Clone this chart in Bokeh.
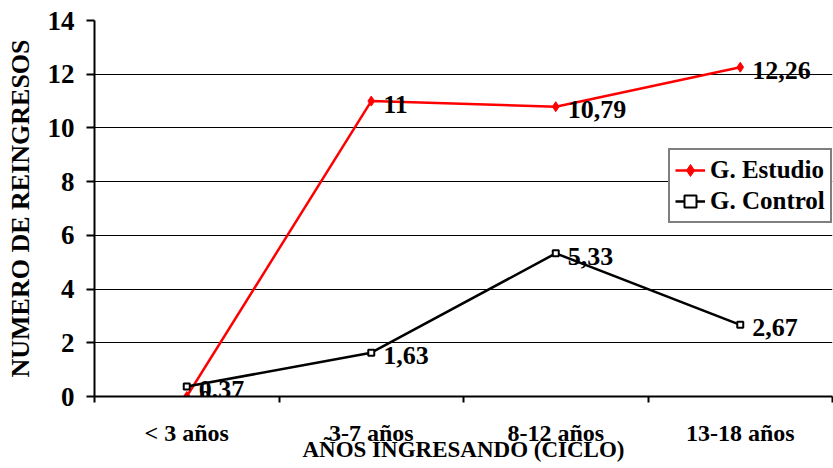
import numpy as np
from bokeh.plotting import figure
from bokeh.models import (Range1d, FixedTicker, Legend, LegendItem,
                          ColumnDataSource)
from bokeh.core.properties import value
from bokeh.embed import file_html
from bokeh.resources import INLINE

categories = ["< 3 años", "3-7 años", "8-12 años", "13-18 años"]
estudio = [0, 11, 10.79, 12.26]
control = [0.37, 1.63, 5.33, 2.67]
y_ticks = [0, 2, 4, 6, 8, 10, 12, 14]

FONT = "Liberation Serif"

def fmt(v):
    return f"{v:g}".replace(".", ",")

x = np.arange(len(categories)) + 0.5

p = figure(width=833, height=468, output_backend="svg", toolbar_location=None,
           x_range=Range1d(0, len(categories)), y_range=Range1d(0, 14),
           min_border_left=94, min_border_right=1, min_border_top=20,
           min_border_bottom=72)
p.outline_line_color = None
p.background_fill_color = "white"
p.border_fill_color = "white"

# horizontal grid only
p.xgrid.grid_line_color = None
p.ygrid.grid_line_color = "black"
p.ygrid.grid_line_width = 1

# y axis
p.yaxis.ticker = FixedTicker(ticks=y_ticks)
p.yaxis.axis_line_width = 2
p.yaxis.axis_line_color = "black"
p.yaxis.major_tick_line_width = 2
p.yaxis.major_tick_in = 0
p.yaxis.major_tick_out = 8
p.yaxis.minor_tick_line_color = None
p.yaxis.major_label_text_font = FONT
p.yaxis.major_label_text_font_style = "bold"
p.yaxis.major_label_text_font_size = "27px"
p.yaxis.major_label_text_color = "black"
p.yaxis.major_label_standoff = 12
p.yaxis.axis_label = "NUMERO DE REINGRESOS"
p.yaxis.axis_label_text_font = FONT
p.yaxis.axis_label_text_font_style = "bold"
p.yaxis.axis_label_text_font_size = "26px"
p.yaxis.axis_label_text_color = "black"
p.yaxis.axis_label_standoff = 10

# x axis: labels at category centers, ticks at category boundaries
p.xaxis.ticker = FixedTicker(ticks=list(x),
                             minor_ticks=list(range(len(categories) + 1)))
p.xaxis.major_label_overrides = {float(xi): c for xi, c in zip(x, categories)}
p.xaxis.axis_line_width = 2
p.xaxis.axis_line_color = "black"
p.xaxis.major_tick_line_color = None
p.xaxis.major_tick_in = 0
p.xaxis.major_tick_out = 0
p.xaxis.minor_tick_line_color = "black"
p.xaxis.minor_tick_line_width = 2
p.xaxis.minor_tick_in = 0
p.xaxis.minor_tick_out = 6
p.xaxis.major_label_text_font = FONT
p.xaxis.major_label_text_font_style = "bold"
p.xaxis.major_label_text_font_size = "24px"
p.xaxis.major_label_text_color = "black"
p.xaxis.major_label_standoff = 17
p.xaxis.axis_label = "AÑOS INGRESANDO (CICLO)"
p.xaxis.axis_label_text_font = FONT
p.xaxis.axis_label_text_font_style = "bold"
p.xaxis.axis_label_text_font_size = "23px"
p.xaxis.axis_label_text_color = "black"
p.xaxis.axis_label_standoff = -12

src_e = ColumnDataSource(dict(x=x, y=estudio, t=[fmt(v) for v in estudio]))
src_c = ColumnDataSource(dict(x=x, y=control, t=[fmt(v) for v in control]))

le = p.line("x", "y", source=src_e, line_color="#FF0000", line_width=2.5)
me = p.scatter("x", "y", source=src_e, marker="diamond", size=10,
               fill_color="#FF0000", line_color="#FF0000")
lc = p.line("x", "y", source=src_c, line_color="black", line_width=2.5)
mc = p.scatter("x", "y", source=src_c, marker="square", size=6,
               fill_color="white", line_color="black", line_width=2)

for src in (src_e, src_c):
    p.text("x", "y", text="t", source=src, x_offset=12, y_offset=3,
           text_baseline="middle", text_align="left",
           text_font=value(FONT), text_font_style="bold",
           text_font_size="26px", text_color="black")

legend = Legend(items=[LegendItem(label="G. Estudio", renderers=[le, me]),
                       LegendItem(label="G. Control", renderers=[lc, mc])],
                location=(574, 173))
legend.label_text_font = FONT
legend.label_text_font_style = "bold"
legend.label_text_font_size = "25px"
legend.label_text_color = "black"
legend.glyph_width = 30
legend.glyph_height = 30
legend.label_height = 30
legend.spacing = 1
legend.padding = 5
legend.margin = 0
legend.border_line_color = "black"
legend.border_line_width = 2
legend.background_fill_color = "white"
legend.background_fill_alpha = 1
p.add_layout(legend)

open("out.html", "w").write(file_html(p, INLINE))
